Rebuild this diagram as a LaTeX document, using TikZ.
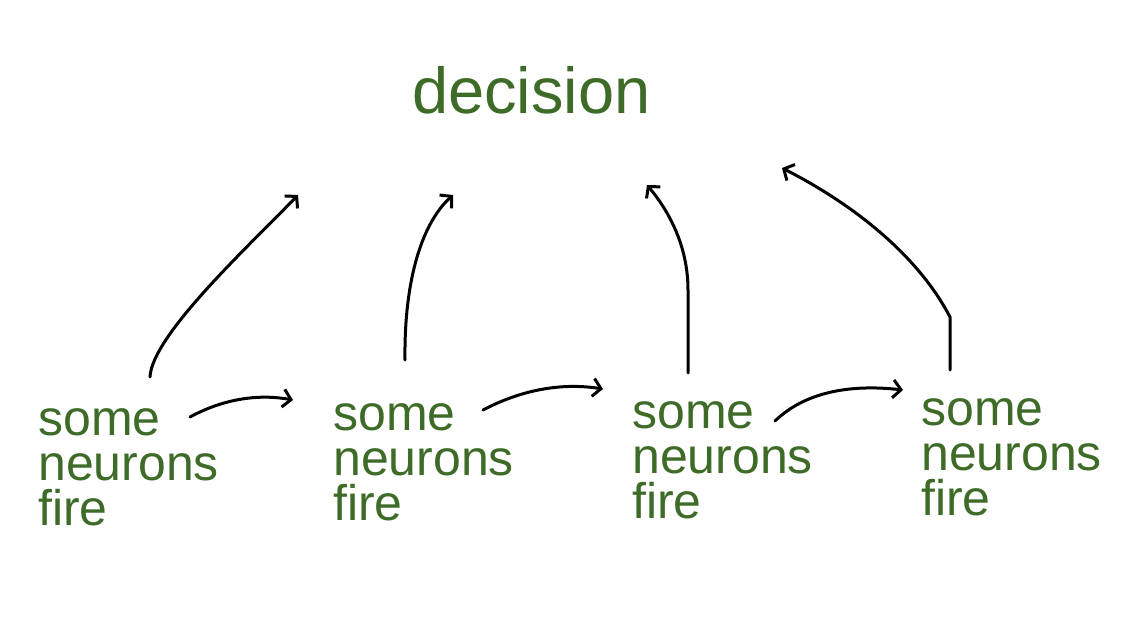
\documentclass[tikz,border=0pt]{standalone}
\usepackage{fontspec}
\setmainfont{Liberation Sans}
\usetikzlibrary{arrows.meta}
\definecolor{leaf}{RGB}{62,107,40}
\begin{document}
\begin{tikzpicture}[x=1pt,y=-1pt,
  label text/.style={text=leaf,font=\fontsize{50}{45}\selectfont,align=left,anchor=base west,inner sep=0pt},
  title text/.style={text=leaf,font=\fontsize{65}{70}\selectfont,anchor=base west,inner sep=0pt},
  sketch/.style={line width=3pt,line cap=round,line join=round,-{Straight Barb[length=8pt,width=18pt,line width=3pt]}}]
\useasboundingbox (0,0) rectangle (1128,644);
\node[title text] (dec) at (412,114) {decision};
\node[label text] (g1) at (38,525) {some\\neurons\\fire};
\node[label text] (g2) at (333,520) {some\\neurons\\fire};
\node[label text] (g3) at (632,518) {some\\neurons\\fire};
\node[label text] (g4) at (921,515) {some\\neurons\\fire};
% start points
\coordinate (u1) at (150,377);
\coordinate (u2) at (405,360);
\coordinate (u3) at (688,373);
\coordinate (u4) at (950,370);
% targets below decision
\coordinate (t1) at (298,195);
\coordinate (t2) at (453,195);
\coordinate (t3) at (647,185);
\coordinate (t4) at (782,168);
% horizontal arrows
\coordinate (h1s) at (190,417); \coordinate (h1e) at (293,400);
\coordinate (h2s) at (483,410); \coordinate (h2e) at (603,389);
\coordinate (h3s) at (775,421); \coordinate (h3e) at (903,390);
\draw[sketch] (u1) .. controls (152,335) and (250,245) .. (t1);
\draw[sketch] (u2) .. controls (404,285) and (420,225) .. (t2);
\draw[sketch] (u3) -- (688,290) .. controls (688,245) and (668,210) .. (t3);
\draw[sketch] (u4) -- (950,317) .. controls (915,250) and (845,200) .. (t4);
\draw[sketch] (h1s) .. controls (225,398) and (260,394) .. (h1e);
\draw[sketch] (h2s) .. controls (525,388) and (565,383) .. (h2e);
\draw[sketch] (h3s) .. controls (805,392) and (850,384) .. (h3e);
\end{tikzpicture}
\end{document}
